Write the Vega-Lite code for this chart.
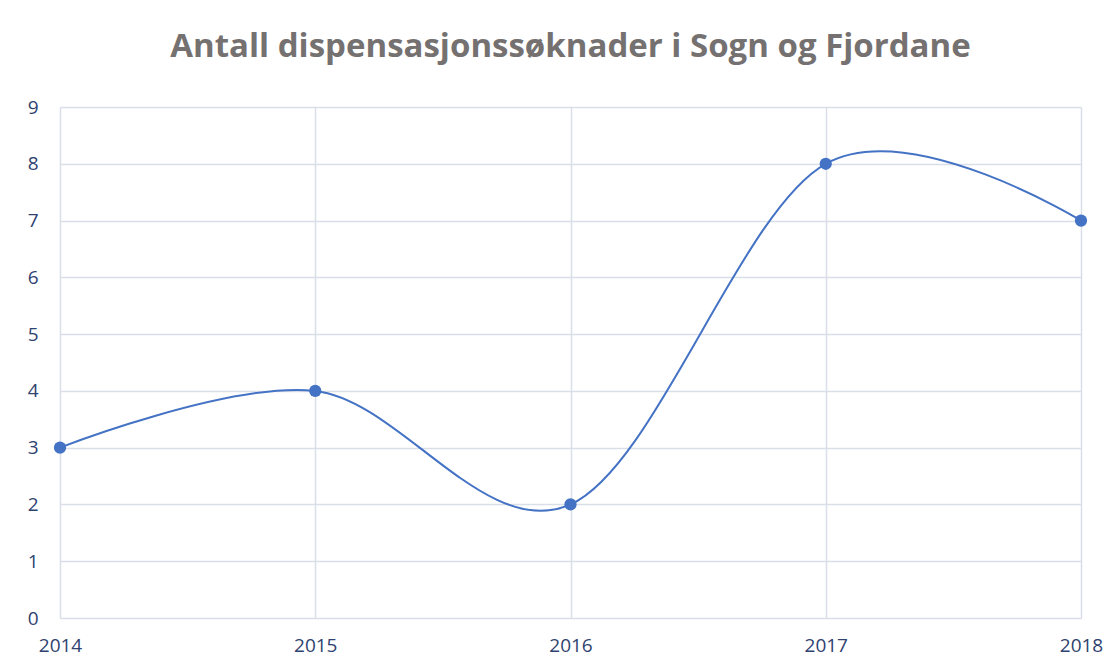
{
  "$schema": "https://vega.github.io/schema/vega-lite/v6.json",
  "width": 1021,
  "height": 511,
  "autosize": {"type": "none"},
  "padding": {"left": 60, "top": 107, "right": 38, "bottom": 53},
  "background": "white",
  "title": {
    "text": "Antall dispensasjonssøknader i Sogn og Fjordane",
    "anchor": "middle",
    "frame": "group",
    "font": "Open Sans",
    "fontSize": 33,
    "fontWeight": "bold",
    "color": "#757171",
    "offset": 34
  },
  "data": {
    "values": [
      {"year": 2014, "count": 3},
      {"year": 2015, "count": 4},
      {"year": 2016, "count": 2},
      {"year": 2017, "count": 8},
      {"year": 2018, "count": 7}
    ]
  },
  "encoding": {
    "x": {
      "field": "year",
      "type": "quantitative",
      "scale": {"domain": [2014, 2018], "nice": false, "zero": false},
      "axis": {
        "title": null,
        "values": [2014, 2015, 2016, 2017, 2018],
        "format": "d",
        "ticks": false,
        "domain": false,
        "grid": true,
        "gridColor": "#D9DEE8",
        "gridWidth": 1.5,
        "labelFont": "Open Sans",
        "labelFontSize": 19,
        "labelColor": "#2F4270",
        "labelPadding": 18,
        "labelFlush": false
      }
    },
    "y": {
      "field": "count",
      "type": "quantitative",
      "scale": {"domain": [0, 9], "nice": false},
      "axis": {
        "title": null,
        "values": [0, 1, 2, 3, 4, 5, 6, 7, 8, 9],
        "ticks": false,
        "domain": false,
        "grid": true,
        "gridColor": "#D9DEE8",
        "gridWidth": 1.5,
        "labelFont": "Open Sans",
        "labelFontSize": 19,
        "labelColor": "#2F4270",
        "labelPadding": 22
      }
    }
  },
  "layer": [
    {
      "mark": {"type": "line", "interpolate": "cardinal", "color": "#4472C4", "strokeWidth": 2}
    },
    {
      "mark": {"type": "point", "filled": true, "color": "#4472C4", "size": 150, "opacity": 1}
    }
  ],
  "config": {"view": {"stroke": null}}
}
